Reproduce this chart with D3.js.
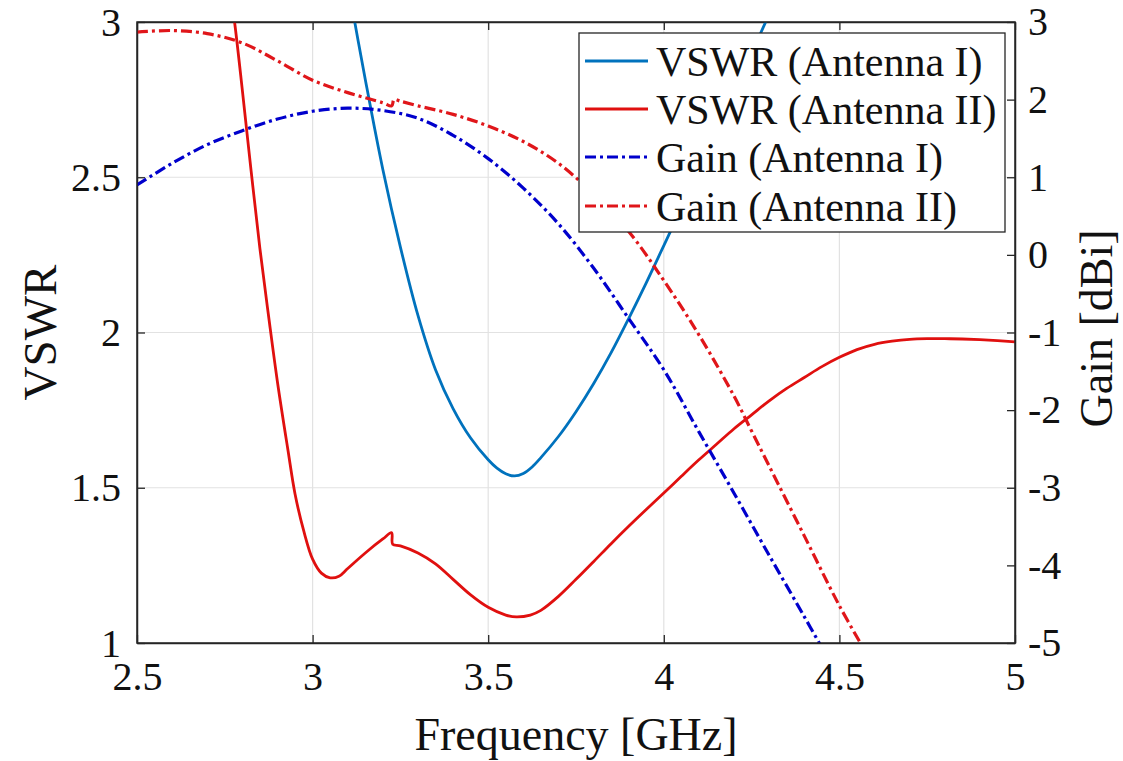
<!DOCTYPE html>
<html>
<head>
<meta charset="utf-8">
<script src="https://cdn.jsdelivr.net/npm/d3@7"></script>
<style>
  html, body { margin: 0; padding: 0; background: #fff; }
  svg { display: block; }
  text { font-family: "Liberation Serif", "DejaVu Serif", "Times New Roman", serif; fill: #111; }
</style>
</head>
<body>
<svg id="chart" width="1123" height="761"></svg>
<script>
// ---- data ----
const xTicks = [2.5, 3, 3.5, 4, 4.5, 5];
const vswrTicks = [1, 1.5, 2, 2.5, 3];
const gainTicks = [3, 2, 1, 0, -1, -2, -3, -4, -5];

const vswr1F = [3.09, 3.12, 3.15, 3.20, 3.25, 3.30, 3.35, 3.40, 3.45, 3.50, 3.525, 3.55, 3.575, 3.60, 3.625, 3.65, 3.70, 3.75, 3.80, 3.85, 3.90, 3.95, 4.00, 4.05, 4.10, 4.15, 4.20, 4.25, 4.30, 4.33];
const vswr1V = [3.19, 3.00, 2.815, 2.525, 2.275, 2.055, 1.88, 1.755, 1.66, 1.59, 1.563, 1.545, 1.538, 1.546, 1.567, 1.597, 1.665, 1.745, 1.835, 1.935, 2.045, 2.16, 2.28, 2.40, 2.525, 2.65, 2.775, 2.90, 3.025, 3.10];

const vswr2F = [2.76, 2.78, 2.80, 2.825, 2.85, 2.875, 2.90, 2.93, 2.95, 2.975, 3.00, 3.025, 3.05, 3.075, 3.10, 3.15, 3.20, 3.225, 3.228, 3.25, 3.30, 3.35, 3.40, 3.45, 3.50, 3.55, 3.58, 3.62, 3.65, 3.70, 3.75, 3.80, 3.85, 3.90, 3.95, 4.00, 4.05, 4.10, 4.15, 4.20, 4.25, 4.30, 4.35, 4.40, 4.45, 4.50, 4.55, 4.60, 4.65, 4.70, 4.75, 4.80, 4.85, 4.90, 4.95, 5.00];
const vswr2V = [3.15, 2.98, 2.78, 2.52, 2.27, 2.05, 1.84, 1.62, 1.48, 1.36, 1.27, 1.225, 1.21, 1.215, 1.24, 1.29, 1.335, 1.355, 1.318, 1.313, 1.29, 1.255, 1.205, 1.155, 1.115, 1.09, 1.084, 1.09, 1.105, 1.15, 1.205, 1.262, 1.32, 1.376, 1.43, 1.483, 1.537, 1.59, 1.64, 1.69, 1.735, 1.78, 1.82, 1.855, 1.89, 1.92, 1.945, 1.962, 1.972, 1.978, 1.98, 1.98, 1.979, 1.977, 1.974, 1.97];

const gain1F = [2.5, 2.6, 2.7, 2.8, 2.9, 3.0, 3.1, 3.2, 3.3, 3.4, 3.5, 3.6, 3.7, 3.8, 3.9, 4.0, 4.1, 4.2, 4.3, 4.4, 4.45];
const gain1G = [0.90, 1.18, 1.42, 1.60, 1.75, 1.85, 1.89, 1.86, 1.76, 1.54, 1.24, 0.86, 0.40, -0.17, -0.82, -1.48, -2.28, -3.07, -3.87, -4.66, -5.06];

const gain2F = [2.5, 2.6, 2.7, 2.8, 2.9, 3.0, 3.1, 3.2, 3.225, 3.232, 3.25, 3.3, 3.4, 3.5, 3.6, 3.7, 3.8, 3.9, 4.0, 4.1, 4.2, 4.25, 4.3, 4.4, 4.5, 4.57];
const gain2G = [2.87, 2.89, 2.85, 2.73, 2.50, 2.25, 2.09, 1.96, 1.92, 2.00, 1.98, 1.92, 1.81, 1.66, 1.46, 1.18, 0.78, 0.30, -0.33, -1.03, -1.82, -2.27, -2.72, -3.62, -4.52, -5.08];

const legendLabels = ["VSWR (Antenna I)", "VSWR (Antenna II)", "Gain (Antenna I)", "Gain (Antenna II)"];

// ---- layout ----
const svg = d3.select("#chart");
const L = 137, R = 1015, T = 22, B = 643;
const x = d3.scaleLinear().domain([2.5, 5]).range([L, R]);
const yL = d3.scaleLinear().domain([1, 3]).range([B, T]);
const yR = d3.scaleLinear().domain([-5, 3]).range([B, T]);
const axisColor = "#262626";
const tickLen = 8;
const FONT = "Liberation Serif, DejaVu Serif, serif";

svg.append("defs").append("clipPath").attr("id", "plotclip")
  .append("rect").attr("x", L).attr("y", T).attr("width", R - L).attr("height", B - T);

// grid
const grid = svg.append("g");
grid.selectAll(".gx").data(xTicks.filter(d => d > 2.5 && d < 5)).join("line")
  .attr("x1", d => x(d)).attr("x2", d => x(d)).attr("y1", T).attr("y2", B)
  .attr("stroke", "#e2e2e2").attr("stroke-width", 1.2);
grid.selectAll(".gy").data(vswrTicks.filter(d => d > 1 && d < 3)).join("line")
  .attr("y1", d => yL(d)).attr("y2", d => yL(d)).attr("x1", L).attr("x2", R)
  .attr("stroke", "#e2e2e2").attr("stroke-width", 1.2);

// axes
const fs = 40;
const axB = svg.append("g").attr("transform", `translate(0,${B})`)
  .call(d3.axisBottom(x).tickValues(xTicks).tickSizeInner(-tickLen).tickSizeOuter(0).tickPadding(18).tickFormat(d3.format("~g")));
const axT = svg.append("g").attr("transform", `translate(0,${T})`)
  .call(d3.axisTop(x).tickValues(xTicks).tickSizeInner(-tickLen).tickSizeOuter(0).tickFormat(""));
const axL = svg.append("g").attr("transform", `translate(${L},0)`)
  .call(d3.axisLeft(yL).tickValues(vswrTicks).tickSizeInner(-tickLen).tickSizeOuter(0).tickPadding(16).tickFormat(d3.format("~g")));
const axR = svg.append("g").attr("transform", `translate(${R},0)`)
  .call(d3.axisRight(yR).tickValues(gainTicks).tickSizeInner(-tickLen).tickSizeOuter(0).tickPadding(13).tickFormat(d3.format("~g")));

[axB, axT, axL, axR].forEach(a => {
  a.attr("font-family", FONT);
  a.select(".domain").attr("stroke", axisColor).attr("stroke-width", 1.5);
  a.selectAll(".tick line").attr("stroke", axisColor).attr("stroke-width", 1.3);
  a.selectAll(".tick text").attr("font-size", fs).attr("font-family", FONT).attr("fill", "#111");
});
axB.selectAll(".tick text").attr("dy", "0.72em");
axL.selectAll(".tick text").attr("dy", "0.33em");
axR.selectAll(".tick text").text(d => d < 0 ? "-" + Math.abs(d) : d);

// series
const lineGen = (yScale) => d3.line().x(d => x(d[0])).y(d => yScale(d[1])).curve(d3.curveCatmullRom.alpha(0.5));
const zip = (a, b) => a.map((v, i) => [v, b[i]]);
const plot = svg.append("g").attr("clip-path", "url(#plotclip)");

const series = [
  { data: zip(vswr1F, vswr1V), y: yL, color: "#0072BD", dash: null, w: 2.8 },
  { data: zip(vswr2F, vswr2V), y: yL, color: "#E0100F", dash: null, w: 2.8 },
  { data: zip(gain1F, gain1G), y: yR, color: "#0000CC", dash: "11,4,3,4", w: 3.2 },
  { data: zip(gain2F, gain2G), y: yR, color: "#E0161A", dash: "11,4,3,4", w: 3.2 }
];
series.forEach(s => {
  plot.append("path").datum(s.data)
    .attr("d", lineGen(s.y))
    .attr("fill", "none").attr("stroke", s.color).attr("stroke-width", s.w)
    .attr("stroke-dasharray", s.dash).attr("stroke-linejoin", "round");
});

// redraw box border on top
svg.append("rect").attr("x", L).attr("y", T).attr("width", R - L).attr("height", B - T)
  .attr("fill", "none").attr("stroke", axisColor).attr("stroke-width", 1.5);

// legend
const lg = svg.append("g").attr("font-family", FONT);
lg.append("rect").attr("x", 579).attr("y", 33).attr("width", 426).attr("height", 199)
  .attr("fill", "#fff").attr("stroke", axisColor).attr("stroke-width", 1.3);
const rowY = [61, 109, 157, 206];
series.forEach((s, i) => {
  lg.append("line").attr("x1", 585).attr("x2", 648).attr("y1", rowY[i]).attr("y2", rowY[i])
    .attr("stroke", s.color).attr("stroke-width", s.w).attr("stroke-dasharray", s.dash);
  lg.append("text").attr("x", 656).attr("y", rowY[i] + 15).attr("font-size", 42).text(legendLabels[i]);
});

// axis titles
svg.append("text").attr("x", (L + R) / 2).attr("y", 750).attr("text-anchor", "middle")
  .attr("font-size", 46).text("Frequency [GHz]");
svg.append("text").attr("transform", `translate(56,${(T + B) / 2}) rotate(-90)`)
  .attr("text-anchor", "middle").attr("font-size", 47).text("VSWR");
svg.append("text").attr("transform", `translate(1112,${(T + B) / 2 - 4}) rotate(-90)`)
  .attr("text-anchor", "middle").attr("font-size", 46).text("Gain [dBi]");
</script>
</body>
</html>
